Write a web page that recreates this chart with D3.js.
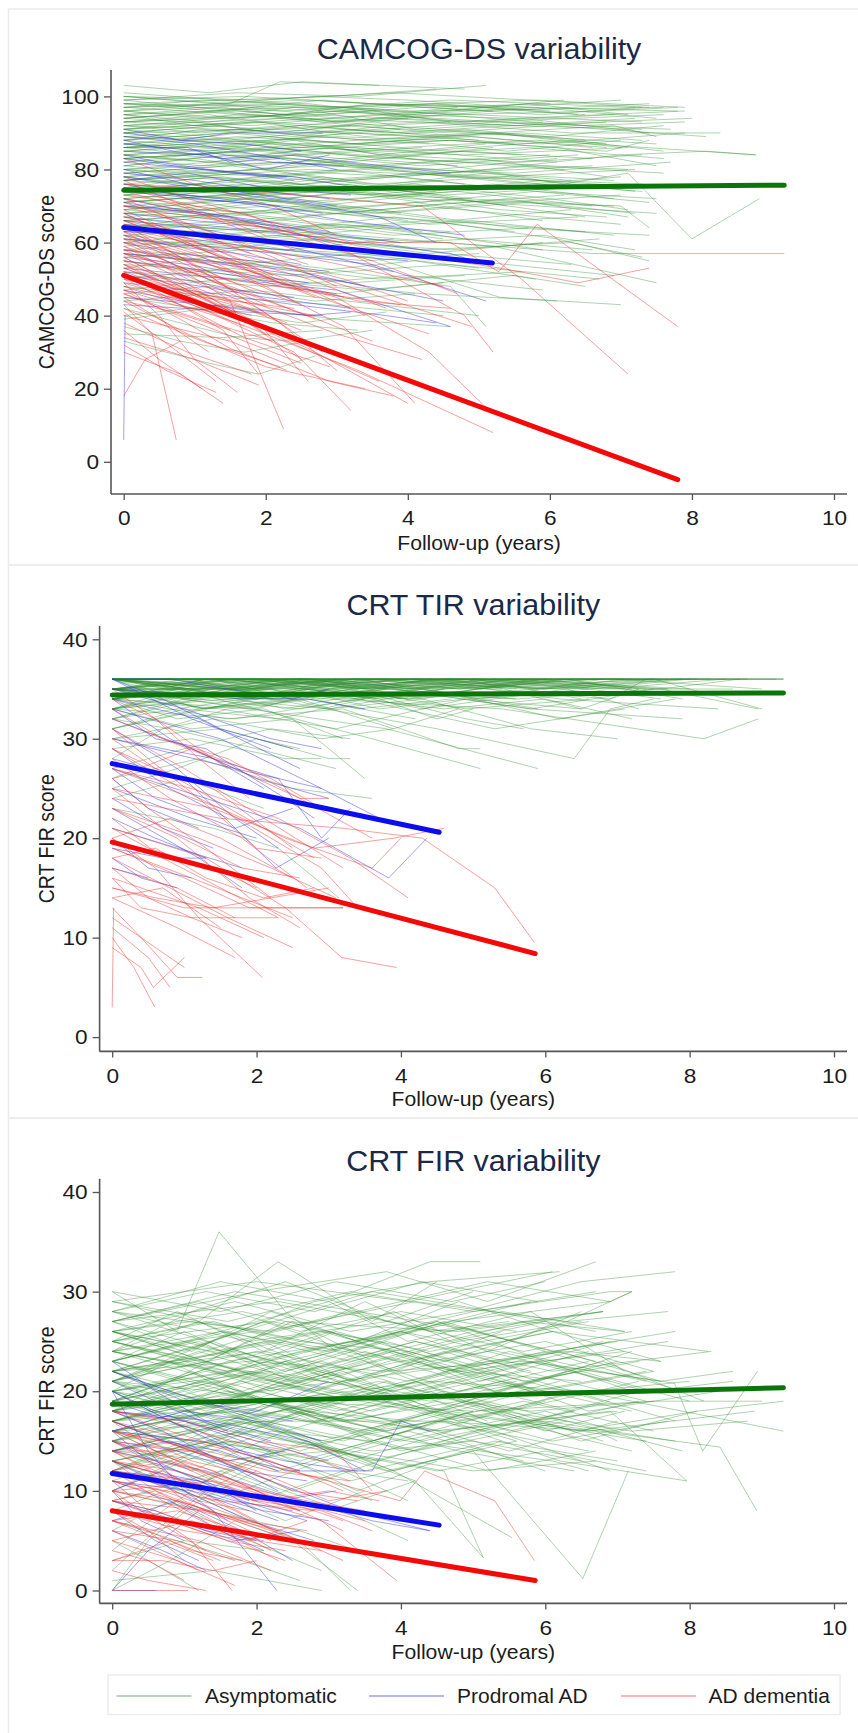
<!DOCTYPE html>
<html>
<head>
<meta charset="utf-8">
<script src="https://cdn.jsdelivr.net/npm/d3@7"></script>
<style>
  body { margin: 0; background: #fff; }
  svg { display: block; }
</style>
</head>
<body>
<svg id="chart" width="858" height="1733"></svg>
<script>
// ---------- data: each trajectory is [t0, y0, t1, y1, ...] (years, score) ----------
const groupLabels = ['Asymptomatic', 'Prodromal AD', 'AD dementia'];
const panelTitles = ['CAMCOG-DS variability', 'CRT TIR variability', 'CRT FIR variability'];
const yTitles = ['CAMCOG-DS score', 'CRT FIR score', 'CRT FIR score'];
const xTicks = [0, 2, 4, 6, 8, 10];
const camcogTicks = [0, 20, 40, 60, 80, 100];
const crtTicks = [0, 10, 20, 30, 40];

const camcogAsym = [
  [0,103,1.2,101,2.5,104,4.8,102],[0,100,1.5,98,2.2,104,3.6,103],[0,99,1.6,101,3.3,100,5.1,103],
  [0,98,1.3,96,2.8,99,4.2,97,6.0,98],[0,97,2.0,98,4.1,96,7.6,97],[0,96,1.1,94,2.4,97,3.9,95,5.5,94,7.9,96],
  [0,95,1.4,97,3.0,93,4.6,96,6.2,99],[0,94,1.8,92,3.5,95,5.3,93,8.2,89],[0,93,1.2,95,2.6,91,4.0,94],
  [0,92,2.2,94,4.4,90,6.8,93],[0,91,1.0,93,2.1,90,3.2,92],[0,90,1.5,88,3.1,91,4.9,89,6.6,86],
  [0,89,1.6,91,3.4,88,5.6,90,7.3,88],[0,88,1.3,86,2.7,89,4.3,87],[0,87,2.0,89,3.9,86,5.8,88,8.9,84],
  [0,86,1.1,84,2.5,87,4.0,85,6.1,82],[0,85,1.7,87,3.6,83,5.2,86],[0,84,1.2,82,2.4,85,3.8,83,7.1,80],
  [0,83,1.9,85,4.2,81,6.4,84],[0,80,2.1,78,4.3,82,6.2,76,7.1,79,8.0,61,8.95,72],
  [0,79,1.5,81,3.2,77,5.1,80,7.0,84,8.2,85,8.9,84],[0,78,1.0,76,2.3,79,3.7,75],
  [0,77,1.8,79,3.5,76,5.4,78,7.2,74],[0,76,1.3,74,2.6,77,4.5,73,6.3,75],[0,75,2.1,77,4.0,72,6.9,70],
  [0,74,1.6,72,3.3,75,5.0,71,7.5,68],[0,73,1.2,75,2.8,71,4.4,74],[0,66,2.4,62,4.5,60,6.6,57,9.3,57],
  [0,71,1.4,73,3.0,69,4.7,72,6.5,67],[0,70,2.0,68,4.1,71,5.9,66],[0,69,1.1,71,2.5,67,4.2,70,7.0,65],
  [0,68,1.7,66,3.6,69,5.5,64,7.4,62],[0,67,1.3,69,2.9,65,4.6,63],[0,65,2.2,63,4.3,66,6.1,61,7.4,55],
  [0,64,1.5,66,3.2,62,5.2,59,7.5,49],[0,63,1.9,61,3.7,64,5.9,58],[0,62,1.2,60,2.7,63,4.5,57,6.3,54],
  [0,61,1.6,59,3.5,56,5.3,45,7.0,43],[0,60,2.4,58,4.9,55,6.9,51],[0,58,1.3,56,2.8,53,4.6,48,5.1,37],
  [0,57,1.8,54,3.6,50,5.6,52],[0,55,1.1,52,2.6,49,4.2,46,6.1,44],[0,52,1.7,50,3.4,47,5.5,51,6.5,48],
  [0,48,1.4,45,2.9,43,4.5,40],[0,45,1.0,42,2.1,38,3.3,36],[0,42,1.6,34,2.4,33,3.5,36],
  [0,37,0.8,33,1.7,30,2.6,33],[0,33,1.2,27,1.9,24,2.7,29],[0,35,1.4,34,2.8,36],
  [0,99,1.0,97,2.3,95,3.5,98,5.0,97,6.4,95],[0,98,1.4,99,2.9,97,4.6,99,7.2,97],[0,97,1.7,95,3.3,93,5.2,96],
  [0,96,2.3,98,4.6,95,6.7,96,7.8,97],[0,95,1.2,93,2.7,96,4.1,91,5.9,93],[0,94,1.6,96,3.1,94,4.7,97],
  [0,93,2.1,91,4.2,93,6.3,90,8.4,90],[0,92,1.1,90,2.2,92,3.4,89,4.8,91,6.5,88],[0,91,1.9,93,3.7,90,5.5,92,7.3,91],
  [0,90,1.3,92,2.6,89,3.9,91],[0,89,2.5,87,4.9,90,7.5,87],[0,88,1.5,90,3.2,87,4.9,89,6.8,86],
  [0,87,1.2,85,2.4,88,3.6,84,5.1,87],[0,86,1.8,88,3.9,84,5.7,86,7.6,83],[0,85,1.4,83,2.9,86,4.4,82,6.0,84],
  [0,84,2.0,86,4.0,83,6.2,80],[0,83,1.1,81,2.4,84,3.8,80],[0,82,1.7,84,3.4,81,5.0,83,6.8,78],
  [0,81,1.3,79,2.8,82,4.6,78,7.3,76],[0,80,2.2,82,4.5,79,6.6,81],[0,79,1.5,77,3.0,80,4.8,76],
  [0,78,1.2,80,2.6,77,4.3,79,6.4,75],[0,77,1.9,75,3.8,78,5.8,74,7.4,71],[0,76,1.4,78,2.9,74,4.5,77],
  [0,75,2.0,73,4.1,76,6.0,72,7.1,69],[0,74,1.1,76,2.3,72,3.6,75,5.4,70],[0,73,1.6,71,3.4,74,5.3,69,6.8,67],
  [0,72,1.3,74,2.7,70,4.2,73],[0,70,1.8,72,3.6,68,5.7,71,7.2,68],[0,69,1.2,67,2.5,70,4.0,66],
  [0,68,2.1,70,4.3,65,6.4,67],[0,66,1.5,68,3.1,64,4.9,66,6.9,62],[0,64,1.3,62,2.8,65,4.5,61],
  [0,62,1.9,64,3.9,60,5.9,62,7.2,58],[0,60,1.1,62,2.3,58,3.8,61],[0,56,1.7,58,3.4,55,5.0,57],
  [0,54,2.3,51,4.6,54,6.7,50],[0,50,1.5,53,3.2,49,4.8,51],[0,46,1.2,48,2.7,44,4.1,46],
  [0,40,1.4,43,3.0,39,4.6,37],[0,100,1.3,98,2.7,100,4.0,99,5.6,97,7.8,96],[0,97,2.6,99,5.2,96,7.4,98],
  [0,94,1.9,97,3.8,95,5.7,98,7.1,95],[0,91,2.8,94,5.5,92,8.0,94],[0,88,2.1,91,4.3,89,6.9,92,7.5,89],
  [0,86,3.0,89,5.9,87,7.9,90],[0,83,2.4,86,4.6,88,6.1,86,7.5,81],[0,80,1.8,83,3.7,86,5.6,84],
  [0,77,2.6,80,5.0,78,7.5,75],[0,74,1.5,77,3.3,75,5.1,79,6.9,77],[0,71,2.4,74,4.8,72,7.0,70,7.4,64],
  [0,99,1.7,100,3.5,98,5.4,97,7.0,99],[0,98,2.2,96,4.3,98,6.5,95],[0,97,1.1,99,2.6,98,4.0,95,5.8,97,7.5,94],
  [0,96,1.5,94,3.0,96,4.4,98,6.0,96],[0,95,2.4,97,4.9,95,7.3,93],[0,95,1.0,92,2.2,94,3.5,96,4.6,93],
  [0,94,1.3,96,2.8,93,4.5,95,6.4,92,7.9,93],[0,93,1.9,95,3.6,92,5.6,94,7.4,90],[0,92,1.4,94,3.1,96,4.8,93,6.9,95],
  [0,92,2.7,90,5.3,93,7.7,91],[0,91,1.2,89,2.5,92,3.9,90,5.5,87],[0,90,2.0,93,4.0,91,6.0,89,7.6,92],
  [0,89,1.5,87,3.2,90,5.0,88],[0,88,1.1,91,2.4,89,3.7,92,5.2,90,6.8,87],[0,87,2.3,85,4.6,88,6.8,85,7.4,88],
  [0,86,1.6,89,3.3,87,5.2,90,7.0,86],[0,85,1.2,87,2.6,84,4.2,86],[0,84,1.8,81,3.7,84,5.6,82,7.3,84],
  [0,83,2.5,86,4.8,84,7.1,86],[0,82,1.4,85,2.9,82,4.4,80,6.1,83],[0,81,1.0,83,2.1,80,3.3,83,4.7,81],
  [0,80,1.7,77,3.4,80,5.3,78,7.2,80],[0,79,2.2,82,4.4,80,6.3,77],[0,78,1.3,75,2.8,78,4.3,74,5.9,77],
  [0,77,1.9,80,3.9,78,5.8,81,7.6,79],[0,76,1.5,73,3.1,76,4.9,72],[0,75,1.2,78,2.5,76,4.1,79,5.7,76,7.0,78],
  [0,74,2.4,71,4.7,74,6.6,70],[0,73,1.6,76,3.4,73,5.2,76,6.9,72],[0,72,1.1,69,2.4,72,3.9,68],
  [0,71,2.0,74,4.1,70,6.2,73],[0,70,1.4,67,2.9,70,4.6,66,6.3,69],[0,69,1.8,72,3.6,69,5.4,72,7.1,67],
  [0,67,1.2,64,2.6,67,4.2,63],[0,66,2.2,69,4.4,66,6.5,63],[0,65,1.5,62,3.1,65,4.8,61,6.6,58],
  [0,63,1.9,66,3.8,62,5.7,64],[0,61,1.3,58,2.7,61,4.3,57,5.9,60],[0,59,2.1,62,4.2,58,6.3,60,7.3,56],
  [0,57,1.6,54,3.3,57,5.0,53],[0,53,1.2,56,2.6,52,4.1,55,5.8,50],[0,51,2.0,48,4.0,51,5.9,47],
  [0,47,1.4,50,3.0,46,4.5,49],[0,44,1.8,47,3.6,43,5.0,40],[0,39,1.2,42,2.5,38,3.7,41],
  [0,100,1.9,99,3.8,101,5.7,99,7.4,97],[0,101,1.4,99,2.9,100,4.4,102],[0,98,2.9,97,5.8,99,7.9,97],
  [0,96,1.3,98,2.7,95,4.2,97,5.9,95,7.3,97],[0,93,2.6,95,5.1,93,7.6,95],[0,90,1.8,91,3.7,94,5.5,92,7.2,94],
  [0,87,1.2,89,2.5,86,3.9,88,5.4,85,7.0,88],[0,84,2.1,87,4.2,85,6.3,88,7.6,85],[0,81,1.5,84,3.1,82,4.8,85,6.6,83],
  [0,78,2.8,81,5.5,79,7.7,82],[0,75,1.3,72,2.7,75,4.2,71,5.8,74,7.5,72],[0,72,2.0,75,4.0,73,6.0,76,7.3,74],
  [0,68,1.7,71,3.5,68,5.3,71,7.0,73],[0,64,1.1,67,2.4,64,3.8,67,5.5,63],[0,58,2.3,61,4.6,58,6.7,61]
];
const camcogProd = [
  [0,91,0.8,88,1.5,90,2.8,90],[0,86,0.9,86,1.5,82,2.2,83],[0,85,1.2,84,2.0,80,2.9,84],
  [0,88,0.7,85,1.4,83,2.3,84,4.1,80,4.6,79],[0,82,1.1,80,2.4,78,3.3,75],[0,80,0.9,76,1.9,73,3.0,70],
  [0,78,1.3,74,2.5,71,3.6,67,4.4,60],[0,76,1.0,72,2.2,70],[0,74,1.6,71,3.1,66,4.8,62],
  [0,72,0.8,69,1.9,66,2.9,63],[0,70,1.2,68,2.6,63,3.9,60],[0,68,1.0,66,2.1,64,3.3,58],
  [0,67,1.5,64,3.0,61,4.6,57,5.1,54],[0,65,0.9,62,2.0,60],[0,64,1.3,60,2.7,57,4.0,55],
  [0,63,1.1,62,2.3,59,3.8,52],[0,61,1.7,58,3.5,54,5.1,44],[0,60,0.8,57,1.8,55,2.9,52],
  [0,58,1.2,55,2.5,52,3.4,48],[0,57,1.4,54,2.9,50,4.5,44],[0,55,0.9,53,2.2,49,3.1,45],
  [0,53,1.5,50,3.0,47,4.6,37],[0,51,1.1,48,2.0,45,3.2,42],[0,49,1.3,46,2.4,43,3.7,40,4.4,38],
  [0,47,0.8,44,1.9,41],[0,45,1.2,43,2.6,40,3.2,41],[0,43,1.7,41,2.8,40],
  [0,84,0.5,82,1.2,80,2.4,77],[0,89,1.0,87,1.9,84,3.0,80],[0,77,0.9,79,2.0,75,3.2,73],
  [0,6,0.02,40],
  [0,90,0.8,88,1.7,87,2.5,85],[0,87,1.1,85,2.1,82,3.1,81],[0,83,0.7,81,1.5,79,2.3,78],
  [0,79,1.0,77,2.0,74,2.9,72],[0,75,0.9,73,1.8,71,2.8,68],[0,71,0.6,69,1.4,67,2.2,64],
  [0,66,1.0,64,1.9,61,2.8,59],[0,62,0.7,59,1.6,57,2.5,54],[0,56,0.9,54,1.8,51,2.6,49],
  [0,52,0.8,50,1.6,47,2.4,45]
];
const camcogDem = [
  [0,83,1.0,76,2.1,70,3.0,62],[0,76,1.8,74,4.2,70,5.6,50,7.1,24],
  [0,72,1.5,66,3.1,60,4.6,60,5.28,52,5.82,65,7.8,37],[0,70,2.0,64,3.6,58,5.3,53,6.4,49,7.4,53],
  [0,68,0.9,60,1.8,52,2.7,45],[0,66,1.1,58,2.3,50,3.4,40],[0,65,0.8,56,1.6,46],
  [0,64,1.4,55,2.9,44,4.3,35],[0,63,1.0,57,2.0,48,3.1,37,4.1,16],[0,62,1.2,51,2.2,38,3.0,25],
  [0,61,0.7,54,1.5,44,2.25,9],[0,60,1.3,49,2.6,40,3.5,33],[0,59,0.9,50,1.9,42,2.8,30],
  [0,58,1.5,46,3.0,35,4.2,28],[0,57,0.6,52,1.3,44,2.0,35],[0,56,1.1,45,2.3,33,3.6,22],
  [0,55,0.8,48,1.6,40,2.5,28],[0,54,1.4,42,2.7,30,4.0,16],[0,53,1.0,46,1.9,38,2.6,22],
  [0,52,0.7,44,1.4,36,1.9,24],[0,51,1.2,41,2.4,30,3.2,14],[0,50,0.9,42,1.7,34,2.9,26],
  [0,49,0.5,40,1.0,28,1.6,19],[0,48,1.6,38,3.3,25,5.2,8],[0,47,0.8,39,1.5,31,2.3,25],
  [0,46,1.3,36,2.5,27],[0,45,0.6,38,1.2,30],[0,44,0.9,35,2.0,26,3.4,20],
  [0,43,0.4,35,0.74,6],[0,42,1.1,33,2.2,26],[0,41,0.7,31,1.3,22],
  [0,40,1.5,33,2.9,22,3.8,18],[0,38,0.9,30,1.8,24],[0,36,0.5,28,1.1,20],
  [0,34,1.0,28,1.9,21],[0,32,0.6,25,1.3,19],[0,18,0.3,28,0.8,33],
  [0,30,0.8,24,1.4,16],[0,75,1.2,69,2.3,62,3.5,55,4.7,46],[0,78,0.9,72,2.0,66,3.2,60],
  [0,73,1.7,68,3.2,57,4.8,40,5.2,30],[0,71,1.1,64,2.1,56,3.0,48],[0,69,0.8,62,1.7,55,2.6,50,3.7,42],
  [0,67,1.4,60,2.8,55,4.5,48],[0,62,0.9,57,1.8,52,3.3,44,4.6,42],[0,58,1.2,54,2.2,48,3.0,46],
  [0,55,1.5,50,2.8,46,3.9,43],[0,52,0.8,47,1.6,44,2.7,40],[0,50,1.1,45,2.4,42],
  [0,47,0.7,43,1.5,40],[0,60,1.6,52,3.0,45,4.3,30,5.2,13],[0,64,0.6,58,1.4,50],
  [0,57,0.9,53,1.9,47,2.5,43],[0,54,0.5,49,1.2,43,1.8,40],[0,66,1.0,62,2.1,55,3.1,50,4.0,44],
  [0,77,0.6,72,1.3,67,2.0,62],[0,74,0.8,70,1.6,64,2.4,58],[0,72,0.5,68,1.1,62,1.8,57],
  [0,70,0.9,65,1.8,59,2.6,54],[0,68,0.6,63,1.3,58,2.1,51],[0,66,0.7,61,1.5,55,2.2,49],
  [0,64,0.9,60,1.7,54,2.5,47],[0,63,0.5,58,1.2,52,1.9,46],[0,61,0.8,57,1.6,51,2.4,44],
  [0,59,0.6,55,1.3,49,2.0,43],[0,57,0.9,52,1.8,46,2.7,39],[0,56,0.5,51,1.0,47,1.6,41],
  [0,54,0.7,50,1.5,44,2.3,38],[0,53,0.6,49,1.3,45,2.0,40],[0,51,0.8,47,1.7,42,2.5,36],
  [0,49,0.5,46,1.1,42,1.7,37],[0,48,0.9,44,1.8,39],[0,46,0.6,42,1.4,37,2.1,33],
  [0,44,0.7,41,1.5,36],[0,65,1.2,59,2.5,52,3.8,44,4.9,37]
];

const tirAsym = [
  [0,36,2.0,36,4.5,36,7.0,36,9.3,36],[0,36,1.5,35,3.2,36,5.4,36,7.9,36],[0,35,1.8,36,3.6,35,5.5,36,8.0,35],
  [0,36,1.2,36,2.5,35,4.0,36,6.1,36],[0,34,1.4,35,2.9,36,4.8,35,6.7,36],[0,35,2.3,34,4.4,36,6.6,35,7.6,34],
  [0,36,1.0,34,2.2,36,3.5,35],[0,33,1.6,35,3.3,34,5.1,36,7.2,35],[0,36,2.6,36,5.0,35,7.5,36,9.0,33],
  [0,35,1.3,33,2.7,35,4.1,34,6.0,36],[0,34,1.9,36,3.9,35,5.8,33,7.9,32],[0,36,1.1,35,2.4,33,3.8,35,5.6,34],
  [0,33,1.7,32,3.4,34,5.3,31,7.1,33],[0,35,1.4,36,3.0,33,4.6,35],[0,32,1.2,34,2.6,33,4.3,35,5.9,33],
  [0,36,2.1,35,4.2,36,6.2,34,8.4,33],[0,34,1.5,33,3.1,31,4.9,34,6.5,33],[0,35,1.8,34,3.5,36,5.2,35,6.9,34,7.4,36],
  [0,35,2.0,33,3.6,30,5.1,27],[0,34,1.6,32,3.2,33,4.8,29,5.1,29],[0,33,1.1,31,2.5,32,3.5,26],
  [0,34,1.9,33,3.8,31,5.9,27],[0,35,2.2,34,4.5,31,6.4,28,6.9,33,7.5,34],[0,36,3.0,34,5.4,33,8.2,30,8.95,32],
  [0,35,2.7,35,5.6,34,7.6,35,8.95,33],[0,36,1.0,35,2.1,36,3.4,34,4.6,35,6.0,36],[0,34,1.3,36,2.9,35,4.3,33,6.3,35,7.3,33],
  [0,33,0.9,35,2.0,34,3.1,36],[0,36,1.7,36,3.6,34,5.5,36,7.7,35],[0,35,1.2,34,2.6,36,4.1,34,5.9,35],
  [0,31,1.0,33,2.3,32,3.5,34],[0,30,1.4,32,2.9,30,3.9,31],[0,29,1.1,30,2.4,28,2.9,28],
  [0,32,0.8,31,2.0,29,3.1,27],[0,27,1.0,29,2.2,31,3.3,30],[0,25,0.9,27,2.0,30,2.6,29],
  [0,23,1.4,21,2.3,19,3.14,14],[0,36,1.5,34,3.0,33,4.3,34,5.8,31,7.0,30],[0,34,2.2,35,4.6,33,6.0,34,7.2,32],
  [0,36,1.8,35,3.4,36,5.0,36,6.8,35,8.5,36],[0,35,1.1,36,2.2,34,3.3,36,4.4,35],[0,33,1.3,34,2.7,36,4.2,35,5.7,36],
  [0,36,2.5,35,4.9,36,6.5,33,7.3,35],[0,34,1.6,36,3.7,34,4.5,32,5.0,33],[0,35,1.9,33,3.3,35,4.9,32,5.7,31],
  [0,36,0.8,36,1.9,35,3.0,36,4.0,34],[0,31,1.3,33,2.5,35,3.7,33,4.9,34],[0,28,0.7,31,1.6,33,2.8,34],
  [0,26,1.2,28,2.5,25,3.6,24],[0,24,1.0,26,2.1,23],[0,36,1.4,36,2.8,36,4.2,35,5.6,36,7.0,36,8.8,36],
  [0,35,2.0,36,4.0,35,6.0,36,8.0,36,9.3,36],[0,36,3.0,36,6.2,35,7.8,36,9.2,36],[0,34,2.4,36,4.7,36,6.9,35,8.6,35],
  [0,35,1.7,35,3.9,34,6.3,36,7.9,34],[0,33,1.4,35,3.1,36,5.0,34,6.6,35],[0,36,1.2,33,2.6,34,3.9,31,4.8,33],
  [0,32,1.8,34,3.7,36,5.6,35],[0,30,1.5,31,3.0,28,3.3,28],[0,34,0.9,32,2.1,33,3.2,30],
  [0,36,2.2,34,4.4,35,6.2,32,7.8,34],
  [0,36,1.3,36,2.7,36,4.1,36,5.5,36,7.2,36],[0,36,2.2,36,4.3,35,6.4,36,8.3,36],[0,35,1.0,36,2.1,36,3.3,35,4.6,36,5.9,36,7.4,35],
  [0,36,1.6,35,3.3,36,4.9,36,6.6,35,8.0,36],[0,35,2.5,36,5.1,36,7.6,35,8.7,36],[0,36,0.9,36,2.0,35,3.1,36,4.3,36,5.4,35],
  [0,34,1.5,36,3.0,35,4.5,36,6.0,35,7.5,36],[0,36,1.8,36,3.6,35,5.3,36,7.0,36,9.0,35],[0,35,1.2,35,2.5,36,3.8,36,5.1,35,6.4,36],
  [0,36,2.0,34,4.0,36,6.0,35,7.7,36],[0,35,1.4,36,2.9,34,4.4,36,5.9,35,7.1,36],[0,36,1.1,35,2.3,36,3.6,36,4.8,35,6.2,36,7.3,35],
  [0,34,1.9,35,3.8,36,5.7,35,7.3,36],[0,36,2.3,36,4.6,35,6.8,36,8.1,36],[0,35,1.7,36,3.4,35,5.0,36,6.8,36],
  [0,33,1.2,35,2.6,36,4.0,35,5.3,36],[0,36,1.0,36,2.2,36,3.5,35,4.7,36],[0,35,2.1,35,4.2,36,6.3,35,7.9,36,9.3,36],
  [0,36,1.5,36,3.1,35,4.6,36,6.1,36,7.6,36],[0,34,1.3,36,2.8,36,4.3,34,5.8,36],[0,36,0.8,35,1.7,36,2.7,36,3.8,35],
  [0,35,1.1,34,2.4,36,3.7,35,5.0,36,6.5,34],[0,36,2.6,36,5.3,36,7.1,35],[0,33,1.6,34,3.2,35,4.9,33,6.6,34],
  [0,32,1.0,34,2.2,35,3.4,33,4.7,34],[0,36,1.9,34,3.9,35,5.8,33,7.5,35],[0,35,1.3,33,2.7,34,4.2,32],
  [0,34,0.9,35,2.0,33,3.0,35,4.1,34],[0,31,1.2,33,2.4,34,3.8,35],[0,36,1.6,35,3.4,36,5.1,34,6.8,36]
];
const tirProd = [
  [0,36,0.8,36,1.6,35,2.5,34,3.0,35],[0,35,1.0,33,2.2,30,2.9,29],[0,36,0.7,34,1.5,31,2.5,29],
  [0,34,1.2,32,2.6,27],[0,33,0.6,30,1.3,29,2.4,24,2.8,22],[0,32,1.1,29,2.0,26,3.0,24],
  [0,31,0.9,27,1.7,22,2.3,19],[0,30,1.4,28,2.3,26,2.9,20,3.3,23],[0,29,0.8,25,1.6,22],
  [0,28,1.0,26,2.27,17,3.0,20],[0,27,1.3,24,2.6,21,3.83,16,4.36,20],[0,26,0.5,23,1.2,21],
  [0,25,1.1,22,2.0,20],[0,24,0.7,21,1.4,19],[0,23,1.2,18,1.8,15],
  [0,22,0.6,20,1.3,18],[0,21,0.9,19,1.8,17],[0,20,0.5,17,1.1,16],
  [0,19,0.7,18,1.3,18],[0,18,0.4,16,0.9,15],[0,17,0.5,16],
  [0,35,1.8,34,2.7,34,3.5,33],[0,34,0.8,30,1.4,28,2.1,25],[0,33,1.5,30,2.9,25,3.7,22],
  [0,36,1.1,32,2.2,29],[0,30,1.7,27,2.9,25],[0,27,0.6,24,1.7,21,2.5,23]
];
const tirDem = [
  [0,33,0.7,30,1.6,28,2.6,24,3.0,24],[0,31,1.0,27,2.1,22,3.2,17],[0,30,0.6,27,1.4,25,2.5,19],
  [0,29,1.2,24,2.4,20,3.6,17,4.0,20],[0,28,0.8,24,1.8,20,2.7,15],[0,27,1.1,25,2.3,22,3.3,18,4.1,14],
  [0,26,0.5,23,1.3,19,2.2,14],[0,25,1.4,23,2.8,19,3.9,20,4.6,21],[0,24,1.5,22,3.2,21,4.3,20,5.3,15,5.85,9.5],
  [0,23,0.9,20,1.9,14,2.6,11],[0,22,0.7,18,1.5,15,2.3,12],[0,21,1.3,18,2.4,13,3.18,8,3.94,7],
  [0,20,0.6,17,1.2,12,2.08,6],[0,19,1.0,16,1.9,13,3.2,13],[0,18,0.8,15,1.6,12,2.5,9],
  [0,17,0.5,14,1.1,12,1.8,10],[0,16,1.2,13,2.1,10],[0,15,0.6,14,1.4,13,3.0,15],
  [0,14,0.9,11,1.7,8],[0,13,0.4,10,0.9,6,1.25,6],[0,12,0.6,9,1.0,7],
  [0,11,0.5,8,0.8,5],[0,10,0.3,7,0.59,3],[0,9,0.4,7,0.57,5,1.0,8],
  [0,3,0.02,13],[0,32,1.4,28,2.6,24,3.6,20],[0,31,0.5,28,1.2,24,2.0,19,2.9,18],
  [0,29,0.9,26,2.1,21,2.8,18],[0,27,1.5,23,2.9,17,3.4,13],[0,25,0.7,21,1.8,17,2.6,16],
  [0,23,1.2,20,2.2,17,3.1,14],[0,21,0.5,19,1.4,17,2.0,15],[0,19,1.1,16,1.8,14,2.5,12],
  [0,17,0.9,15,1.7,12],[0,16,0.4,13,1.1,12,2.3,12],[0,15,1.0,13,3.2,13],
  [0,14,0.7,15,1.5,11],[0,34,0.6,32,1.2,28,1.9,24],[0,35,0.8,31,1.6,27],
  [0,26,1.1,29,2.2,26,2.9,23],[0,20,0.8,22,1.5,20,2.5,16],[0,18,0.6,19,1.3,16,2.1,14,2.8,15]
];

const firAsym = [
  [0,30,0.9,26,1.48,36,2.4,28,3.1,24],[0,29,1.2,27,2.3,33,3.6,27,4.5,31],[0,28,1.5,31,3.0,29,4.4,33,5.1,33],
  [0,27,2.0,30,3.8,32,5.2,29,6.7,33],[0,27,1.1,24,2.2,28,3.4,25,4.8,29,6.1,26],[0,26,1.7,29,3.3,26,4.9,28,6.5,31,7.8,32],
  [0,26,1.3,23,2.5,27,3.9,22,5.4,26],[0,25,0.9,28,2.1,24,3.5,29,4.7,25,6.0,27],[0,25,1.6,22,3.1,26,4.6,23,6.3,27,7.2,30],
  [0,24,1.2,27,2.6,23,4.0,26,5.7,22],[0,24,2.1,21,4.2,25,6.1,22,8.3,24],[0,23,1.0,26,2.3,22,3.7,25,5.1,21,6.6,24],
  [0,23,1.8,20,3.5,24,5.3,20,7.0,23],[0,22,1.4,25,2.9,21,4.3,24,5.9,20],[0,22,1.1,19,2.4,23,3.8,20,5.5,24,7.4,21],
  [0,21,2.0,24,3.9,20,5.8,23,7.79,20.8,8.18,14,8.94,22],[0,21,1.3,18,2.7,22,4.1,19,5.6,21],[0,20,0.8,23,1.9,19,3.2,22,4.5,18,6.2,21],
  [0,20,1.6,17,3.2,21,4.8,17,6.5,20,9.3,16],[0,19,1.1,22,2.5,18,3.8,21,5.2,17],[0,19,1.9,16,3.7,20,5.5,16,7.3,19],
  [0,18,1.4,21,2.8,17,4.4,20,6.0,16,7.1,18],[0,18,1.0,15,2.2,19,3.6,15,5.0,18],[0,17,1.7,20,3.4,16,5.1,19,6.8,15],
  [0,17,1.2,14,2.6,18,4.0,14,5.7,17,8.42,14.4,8.93,8],[0,16,2.2,19,4.3,15,6.4,18],[0,16,0.9,13,2.0,17,3.3,13,4.7,16],
  [0,15,1.5,18,3.1,14,4.6,17,6.2,13,7.96,11],[0,15,1.1,12,2.4,16,3.9,12,5.4,15],[0,14,1.8,17,3.6,13,5.3,16,6.9,12],
  [0,14,1.3,11,2.7,15,4.2,11,5.14,3.3],[0,13,2.0,16,3.8,12,5.6,15],[0,13,1.0,10,2.2,14,3.4,10,4.5,13],
  [0,12,1.6,15,3.3,11,5.0,14,6.52,1.2,7.15,12],[0,12,1.4,9,2.9,13,4.1,9],[0,11,1.2,14,2.5,10,3.7,13],
  [0,10,0.9,13,2.0,9,3.2,12,4.1,11],[0,9,1.5,12,3.0,8,4.2,11],[0,8,1.1,11,2.4,7,3.5,10],
  [0,6,0.8,9,1.9,5,2.9,2],[0,4,0.7,8,1.5,12,2.3,14],[0,2,0.6,6,1.3,10,2.1,13],
  [0,0,0.5,5,1.2,9,2.0,12],[0,0,0.8,3,1.7,7,2.5,5,3.4,0],[0,1,1.4,2,2.9,0],
  [0,28,1.9,25,3.8,27,5.7,24,7.2,26],[0,27,2.3,29,4.6,26,6.8,28],[0,26,1.4,24,2.9,26,4.4,23,6.0,25,7.5,22],
  [0,25,1.0,23,2.1,25,3.3,21,4.6,24,5.9,21,7.2,24],[0,24,1.5,26,3.0,24,4.5,27,6.0,23,7.7,25],[0,23,1.2,25,2.5,21,3.9,24,5.3,20,6.8,23,8.2,19],
  [0,22,2.1,24,4.1,21,6.0,24,7.9,20],[0,21,1.0,23,2.2,20,3.5,23,4.9,19,6.3,22],[0,20,1.7,22,3.3,19,5.0,22,6.6,18,8.4,20],
  [0,19,1.3,21,2.7,18,4.2,21,5.8,17,7.3,20],[0,18,2.0,20,3.9,17,5.9,21,7.8,17],[0,17,1.1,19,2.4,16,3.8,19,5.3,16,6.9,19],
  [0,16,1.6,18,3.2,15,4.9,19,6.5,15,8.1,18],[0,15,1.2,17,2.6,14,4.0,17,5.5,14,7.0,17],[0,14,1.9,16,3.7,13,5.5,17,7.2,14],
  [0,13,1.4,15,2.9,13,4.4,16,6.0,12],[0,12,1.0,15,2.3,12,3.7,15,5.2,12,6.7,14],[0,24,1.1,28,2.4,31,3.8,27,5.0,30],
  [0,22,1.8,26,3.6,30,5.3,28,6.7,26],[0,21,1.4,25,2.8,29,4.4,31,6.2,32],[0,20,2.4,23,4.7,27,6.9,29],
  [0,19,1.6,23,3.3,25,5.0,28,6.9,30,7.2,30],[0,18,1.2,21,2.6,24,4.1,26,5.8,29],[0,17,2.0,20,4.0,23,6.1,26,8.26,24],
  [0,16,1.5,19,3.1,22,4.8,25,6.5,27],[0,15,1.1,18,2.4,21,3.8,24],[0,14,1.7,17,3.5,20,5.2,23,7.0,25],
  [0,23,1.6,20,3.2,17,4.8,14,6.4,12],[0,22,1.2,19,2.5,16,3.9,12,5.54,5.3],[0,21,2.1,18,4.1,15,6.1,13,6.6,12],
  [0,20,1.5,17,3.1,14,4.6,12,5.14,3.3],[0,25,1.8,22,3.7,19,5.6,17,7.4,15],[0,26,1.3,23,2.7,20,4.2,18,5.6,15],
  [0,24,2.2,21,4.4,18,6.6,16,8.9,18],[0,18,1.6,20,3.2,17,4.8,19,6.4,16,8.1,18,9.3,19],[0,19,2.5,19,5.0,18,7.5,19,9.0,19],
  [0,17,1.8,18,3.6,16,5.4,18,7.2,16,8.8,17],[0,22,1.9,23,3.8,22,5.7,23,7.6,21,8.6,22],[0,20,0.8,17,1.9,13,3.0,11,3.6,9],
  [0,16,0.9,14,2.0,11,3.2,8,4.1,5],[0,13,0.7,11,1.6,8,2.6,5,3.3,0],[0,10,1.3,8,2.6,6,3.4,4],
  [0,7,0.9,5,1.8,3,2.6,1],[0,5,0.5,3,1.2,0],[0,3,1.0,5,2.1,4],
  [0,18,2.4,27,4.8,26,6.8,28],[0,26,1.1,27,2.2,26,3.3,28,4.4,26,5.5,27],[0,12,2.3,18,4.6,16,6.9,18,7.96,11],
  [0,23,3.0,29,4.1,25,5.8,28,7.1,22],[0,21,1.4,20,2.9,23,4.3,20,5.9,23,7.4,20,8.6,21],[0,19,1.0,18,2.1,19,3.3,17,4.5,19,5.8,17,7.0,18],
  [0,16,2.2,17,4.5,17,6.7,16,7.0,15],[0,14,1.5,13,3.0,14,4.5,12,6.0,14,7.4,12],[0,27,1.7,30,3.4,28,5.2,31,6.9,29,7.2,30],
  [0,25,1.3,27,2.6,25,3.9,28,5.2,24,6.5,28],
  [0,29,1.6,27,3.3,30,5.0,28,6.7,30],[0,28,2.1,26,4.2,29,6.3,27,7.7,28],[0,27,1.2,29,2.6,26,4.0,28,5.6,26],
  [0,26,1.8,28,3.6,25,5.4,28,7.1,26],[0,25,1.4,27,2.9,24,4.5,27,6.1,24,7.8,26],[0,24,2.0,26,4.1,23,6.1,26,7.6,23],
  [0,23,1.1,25,2.4,22,3.8,25,5.3,22,6.9,25],[0,22,1.7,24,3.4,21,5.2,24,6.9,21],[0,21,1.3,23,2.8,20,4.3,23,5.9,20,7.5,22],
  [0,20,2.2,22,4.4,19,6.5,22,8.0,19],[0,19,1.5,21,3.1,18,4.7,21,6.4,18],[0,18,1.0,20,2.2,17,3.5,20,4.9,17,6.4,20],
  [0,17,1.9,19,3.8,16,5.7,19,7.5,16],[0,16,1.4,18,2.9,15,4.5,18,6.1,15,7.7,17],[0,15,2.1,17,4.2,14,6.3,17,7.9,14],
  [0,14,1.2,16,2.6,13,4.1,16,5.7,13],[0,13,1.7,15,3.5,12,5.3,15,7.0,13],[0,28,1.3,25,2.7,22,4.2,25,5.8,22],
  [0,26,2.0,23,4.0,26,6.0,23,7.2,20],[0,24,1.5,21,3.1,24,4.8,20,6.6,23],[0,22,1.1,20,2.4,23,3.8,19,5.2,22,6.8,19],
  [0,20,1.8,18,3.7,21,5.5,18,7.3,21],[0,18,1.3,16,2.8,19,4.4,16,6.0,19],[0,16,2.3,14,4.5,17,6.6,14],
  [0,27,1.5,24,3.0,26,4.6,22,6.2,24,7.6,21],[0,25,2.2,27,4.4,24,6.6,27],[0,23,1.6,26,3.3,23,5.0,26,6.7,23],
  [0,21,1.2,24,2.6,21,4.1,24,5.7,21,7.3,23],[0,19,1.9,22,3.8,19,5.7,22,7.4,19],[0,17,1.4,20,3.0,17,4.6,20,6.3,17],
  [0,15,2.0,18,4.0,15,6.0,18,7.0,16],[0,26,1.0,24,2.1,27,3.3,24,4.6,27,6.0,24],[0,24,1.6,22,3.3,25,5.0,22,6.8,25],
  [0,22,2.4,25,4.8,22,7.1,24],[0,20,1.3,22,2.7,20,4.2,23,5.8,20,7.4,22],[0,18,1.8,21,3.6,18,5.4,21,7.2,18],
  [0,30,1.5,28,3.1,31,4.7,29,6.0,31],[0,29,2.0,31,4.1,29,6.1,32],[0,28,1.3,30,2.8,28,4.3,31,5.9,29],
  [0,21,1.7,25,3.4,28,5.1,26,6.8,28],[0,19,1.2,22,2.6,25,4.1,24,5.7,27,7.1,26],[0,17,2.1,20,4.2,22,6.3,24,7.6,23],
  [0,23,1.4,20,2.9,18,4.4,16,6.0,17,7.8,15],[0,25,1.9,22,3.9,20,5.8,18,7.5,19],[0,21,1.1,18,2.3,16,3.6,14,5.0,15,6.5,13],
  [0,19,1.6,16,3.3,14,5.0,12,6.7,13],[0,16,2.2,19,4.4,21,6.6,20,8.0,21],[0,14,1.5,17,3.1,19,4.8,22,6.5,21],
  [0,12,1.3,15,2.7,18,4.2,17,5.8,20],[0,10,1.0,13,2.2,16,3.6,15,5.0,18]
];
const firProd = [
  [0,23,0.6,20,1.3,17,2.2,15],[0,22,1.0,19,2.0,18,3.0,21],[0,20,0.8,17,1.7,14,2.6,12],
  [0,19,1.2,16,2.4,12,3.6,12,4.0,17,4.4,16],[0,18,0.7,16,1.5,13,2.3,10],[0,17,1.1,14,2.2,11,3.3,8,4.4,6],
  [0,16,0.5,13,1.3,11,2.0,8],[0,15,0.9,12,1.8,9,2.7,7],[0,14,1.3,12,2.6,9,3.6,7,4.4,6],
  [0,13,0.6,11,1.4,8,2.28,0],[0,12,1.0,10,1.9,7,2.8,5],[0,11,0.8,9,1.5,6,2.1,4],
  [0,10,0.4,7,1.0,5],[0,9,0.9,7,1.7,5,2.6,6],[0,8,0.6,5,1.2,3],
  [0,6,0.7,4,1.3,2],[0,0,0.6,0],[0,0,0.5,4,1.2,8],
  [0,21,0.9,18,1.6,16],[0,18,1.4,17,2.7,15,3.5,12],[0,14,0.8,15,1.6,13,2.4,14],
  [0,12,1.2,11,2.3,9,3.1,10],[0,16,1.0,18,2.0,17,2.9,15],[0,10,0.7,12,1.5,9,2.3,7],
  [0,20,0.5,14,1.0,10,1.6,7],[0,7,0.9,9,1.8,6,2.5,3],
  [0,22,0.8,20,1.7,18,2.5,17],[0,20,0.6,18,1.4,16,2.2,14],[0,18,1.0,17,2.0,15,3.0,13],
  [0,17,0.7,15,1.5,14,2.3,12],[0,15,0.9,14,1.8,12,2.7,11],[0,13,0.5,12,1.2,11,1.9,9],
  [0,12,0.8,11,1.7,9,2.5,8],[0,11,1.1,10,2.1,8,3.0,7],[0,9,0.6,8,1.3,6,2.0,5],
  [0,16,1.2,15,2.4,13,3.4,12]
];
const firDem = [
  [0,18,0.8,16,1.7,14,2.6,12],[0,17,1.1,15,2.2,13,3.2,10],[0,17,0.6,14,1.4,12,2.3,9],
  [0,16,1.3,14,2.5,12,3.99,9,4.33,12,5.3,9,5.85,3],[0,16,0.9,13,1.9,10,2.8,8],[0,15,0.5,13,1.2,10,2.0,7],
  [0,15,1.4,12,2.6,8,3.2,6],[0,14,0.8,11,1.7,8,2.5,5],[0,14,1.2,12,2.4,9,3.5,7],
  [0,13,0.6,10,1.4,7,2.2,4],[0,13,1.0,11,2.1,9,3.0,10,3.7,9],[0,12,0.7,9,1.5,6,2.3,3],
  [0,12,1.5,10,2.9,7,3.94,1],[0,11,0.5,8,1.1,5,1.66,0],[0,11,0.9,9,1.8,7,2.7,6],
  [0,10,1.2,8,2.3,6,3.2,3],[0,10,0.6,7,1.3,4],[0,9,0.8,7,1.6,5,2.4,3],
  [0,9,1.3,8,2.5,5],[0,8,0.5,6,1.0,3],[0,8,1.0,6,1.9,5,2.7,7],
  [0,7,0.7,5,1.4,3],[0,7,1.2,5,2.2,2],[0,6,0.6,4,1.2,2],
  [0,5,0.9,3,1.7,0.5],[0,4,0.5,3,1.0,1],[0,3,0.7,3,1.4,2,2.0,3],
  [0,0,1.05,0],[0,2,0.5,1,1.3,0],[0,18,1.0,17,2.0,15,3.1,14,3.6,10],
  [0,16,0.7,15,1.6,13,2.5,10,3.4,9],[0,14,1.1,14,2.0,12,3.0,9,3.8,10],[0,12,0.8,13,1.7,10,2.6,8],
  [0,10,1.4,11,2.7,9,3.5,8],[0,9,0.6,10,1.3,8,1.9,7],[0,7,0.9,8,1.8,6],
  [0,5,1.1,7,2.0,5,2.9,4],[0,3,0.8,5,1.5,3],[0,13,0.5,12,1.0,9,1.6,7,2.2,5],
  [0,11,1.5,9,2.8,8,3.2,7],
  [0,17,0.7,15,1.5,13,2.2,11],[0,16,0.5,15,1.1,13,1.7,12],[0,15,0.8,13,1.7,11,2.5,9],
  [0,14,0.6,12,1.3,10,2.0,9],[0,13,0.9,12,1.8,10,2.6,8],[0,12,0.5,11,1.2,9,1.9,8],
  [0,11,0.7,10,1.5,8,2.3,6],[0,10,0.9,9,1.8,7,2.6,5],[0,9,0.6,8,1.4,6,2.1,5],
  [0,8,0.8,7,1.6,5,2.4,4],[0,7,0.5,6,1.1,4,1.8,3],[0,6,0.9,5,1.7,3],
  [0,18,0.8,17,1.6,15,2.5,14,3.3,12],[0,15,1.1,14,2.2,12,3.3,11],[0,12,1.0,11,2.0,9,2.9,8,3.6,6]
];

// fitted group lines [t0, y0, t1, y1], order: asymptomatic, prodromal, dementia
const camcogFit = [[0,74.3,9.3,75.7],[0,64.1,5.19,54.4],[0,51.0,7.8,-4.9]];
const tirFit = [[0,34.4,9.3,34.6],[0,27.5,4.53,20.6],[0,19.6,5.86,8.4]];
const firFit = [[0,18.7,9.3,20.35],[0,11.75,4.53,6.56],[0,8.0,5.86,1.0]];

// ---------- styling / layout ----------
const FONT = '"Liberation Sans", Arial, Helvetica, sans-serif';
const thinColors = ['#2e8b2e', '#3030e0', '#f03030'];
const thinOpacity = [0.38, 0.46, 0.46];
const thickColors = ['#0a760a', '#0c0cf0', '#f50808'];
const titleColor = '#1b2846';
const textColor = '#1c1c1c';

const panels = [
  { title: panelTitles[0], yTitle: yTitles[0], yTicks: camcogTicks, yMax: 100,
    groups: [camcogAsym, camcogProd, camcogDem], fits: camcogFit,
    frame: [9, 565], axL: 111, axR: 847, axTop: 70, axBot: 494,
    xPx: [123.7, 834], yPx: [461.8, 96.4], titleX: 479, titleY: 59, xtY: 549.5, ytY: 282 },
  { title: panelTitles[1], yTitle: yTitles[1], yTicks: crtTicks, yMax: 40,
    groups: [tirAsym, tirProd, tirDem], fits: tirFit,
    frame: [565, 1118], axL: 99.6, axR: 847, axTop: 626, axBot: 1051.4,
    xPx: [112.2, 834], yPx: [1037.1, 639.3], titleX: 473.3, titleY: 615, xtY: 1106, ytY: 838.7 },
  { title: panelTitles[2], yTitle: yTitles[2], yTicks: crtTicks, yMax: 40,
    groups: [firAsym, firProd, firDem], fits: firFit,
    frame: [1118, 1745], axL: 99.6, axR: 847, axTop: 1178.7, axBot: 1603.4,
    xPx: [112.2, 834], yPx: [1590.5, 1192], titleX: 473.3, titleY: 1170.5, xtY: 1659, ytY: 1391 }
];

function toPoints(arr) {
  const pts = [];
  for (let i = 0; i < arr.length; i += 2) pts.push([arr[i], arr[i + 1]]);
  return pts;
}

const svg = d3.select('#chart');

function addText(g, x, y, str, size, stretch, anchor, color) {
  return g.append('text')
    .attr('transform', `translate(${x},${y}) scale(${stretch},1)`)
    .attr('text-anchor', anchor)
    .style('font-family', FONT)
    .style('font-size', size + 'px')
    .attr('fill', color)
    .text(str);
}

panels.forEach((p) => {
  const g = svg.append('g');

  // light frame around each panel
  g.append('rect')
    .attr('x', 8.5).attr('y', p.frame[0])
    .attr('width', 860).attr('height', p.frame[1] - p.frame[0])
    .attr('fill', 'none').attr('stroke', '#ebebeb').attr('stroke-width', 1.5);

  const x = d3.scaleLinear().domain([0, 10]).range(p.xPx);
  const y = d3.scaleLinear().domain([0, p.yMax]).range(p.yPx);
  const line = d3.line().x((d) => x(d[0])).y((d) => y(d[1]));

  // individual trajectories
  p.groups.forEach((trajs, gi) => {
    g.append('g')
      .selectAll('path')
      .data(trajs)
      .join('path')
      .attr('d', (d) => line(toPoints(d)))
      .attr('fill', 'none')
      .attr('stroke', thinColors[gi])
      .attr('stroke-opacity', thinOpacity[gi])
      .attr('stroke-width', 1);
  });

  // fitted lines
  g.append('g')
    .selectAll('path')
    .data(p.fits)
    .join('path')
    .attr('d', (d) => line(toPoints(d)))
    .attr('fill', 'none')
    .attr('stroke', (d, i) => thickColors[i])
    .attr('stroke-width', 5)
    .attr('stroke-linecap', 'round');

  // axes
  const yAxis = g.append('g')
    .attr('transform', `translate(${p.axL},0)`)
    .call(d3.axisLeft(y).tickValues(p.yTicks).tickSize(7).tickPadding(4).tickSizeOuter(0));
  const xAxis = g.append('g')
    .attr('transform', `translate(0,${p.axBot})`)
    .call(d3.axisBottom(x).tickValues(xTicks).tickSize(6).tickPadding(10.5).tickSizeOuter(0));

  [yAxis, xAxis].forEach((a) => {
    a.select('.domain').remove();
    a.selectAll('line').attr('stroke', '#555').attr('stroke-width', 1.3);
    a.selectAll('text')
      .attr('transform', 'scale(1.08,1)')
      .style('font-family', FONT)
      .style('font-size', '21px')
      .attr('fill', textColor);
  });

  g.append('line')
    .attr('x1', p.axL).attr('x2', p.axL).attr('y1', p.axTop).attr('y2', p.axBot)
    .attr('stroke', '#555').attr('stroke-width', 1.6);
  g.append('line')
    .attr('x1', p.axL).attr('x2', p.axR).attr('y1', p.axBot).attr('y2', p.axBot)
    .attr('stroke', '#555').attr('stroke-width', 1.6);

  // titles
  addText(g, p.titleX, p.titleY, p.title, 29, 1.05, 'middle', titleColor);
  addText(g, (p.axL + p.axR) / 2, p.xtY, 'Follow-up (years)', 20, 1.06, 'middle', textColor);
  g.append('text')
    .attr('transform', `translate(54,${p.ytY}) rotate(-90) scale(1,1.15)`)
    .attr('text-anchor', 'middle')
    .style('font-family', FONT)
    .style('font-size', '19.5px')
    .attr('fill', textColor)
    .text(p.yTitle);
});

// legend
const legend = svg.append('g');
legend.append('rect')
  .attr('x', 108).attr('y', 1675).attr('width', 732).attr('height', 39.5)
  .attr('fill', '#fff').attr('stroke', '#ececec').attr('stroke-width', 1.5);
const legendLineX = [116.5, 369, 621];
const legendTextX = [205, 457, 708.6];
groupLabels.forEach((lab, i) => {
  legend.append('line')
    .attr('x1', legendLineX[i]).attr('x2', legendLineX[i] + 75)
    .attr('y1', 1696).attr('y2', 1696)
    .attr('stroke', thinColors[i]).attr('stroke-opacity', 0.35).attr('stroke-width', 1.8);
  addText(legend, legendTextX[i], 1703, lab, 20, 1.05, 'start', textColor);
});
</script>
</body>
</html>
